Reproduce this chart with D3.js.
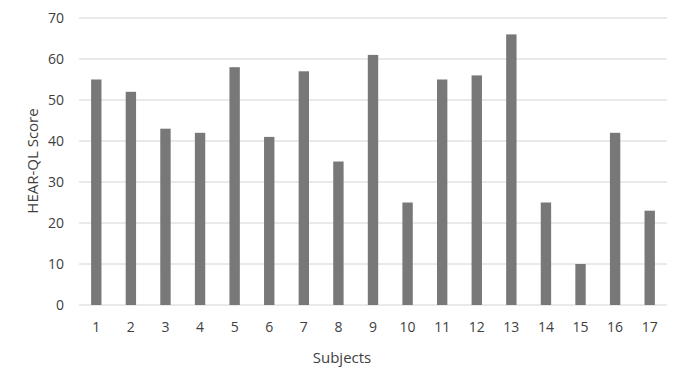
<!DOCTYPE html>
<html>
<head>
<meta charset="utf-8">
<script src="https://cdn.jsdelivr.net/npm/d3@7"></script>
<style>
  body { margin: 0; background: #fff; }
  text { font-family: "Open Sans", "Noto Sans", sans-serif; fill: #404040; }
</style>
</head>
<body>
<div id="chart"></div>
<script>
// subject numbers and HEAR-QL scores
const subjects = ["1","2","3","4","5","6","7","8","9","10","11","12","13","14","15","16","17"];
const scores = [55, 52, 43, 42, 58, 41, 57, 35, 61, 25, 55, 56, 66, 25, 10, 42, 23];
const yTicks = [0, 10, 20, 30, 40, 50, 60, 70];

const width = 685, height = 383;
const margin = {top: 18, right: 18, bottom: 78, left: 79};

const svg = d3.select("#chart")
              .append("svg")
              .attr("width", width)
              .attr("height", height);

const x = d3.scaleBand()
            .domain(subjects)
            .range([margin.left, width - margin.right])
            .paddingInner(0.7)
            .paddingOuter(0.35);

const y = d3.scaleLinear()
            .domain([0, 70])
            .range([height - margin.bottom, margin.top]);

// gridlines
svg.append("g")
   .selectAll("line")
   .data(yTicks)
   .join("line")
   .attr("x1", margin.left)
   .attr("x2", width - margin.right)
   .attr("y1", d => y(d))
   .attr("y2", d => y(d))
   .attr("stroke", "#d4d4d4")
   .attr("stroke-width", 1);

// bars
svg.append("g")
   .selectAll("rect")
   .data(scores)
   .join("rect")
   .attr("x", (d, i) => x(subjects[i]))
   .attr("y", d => y(d))
   .attr("width", x.bandwidth())
   .attr("height", d => y(0) - y(d))
   .attr("fill", "#787878");

// y tick labels
svg.append("g")
   .selectAll("text")
   .data(yTicks)
   .join("text")
   .attr("x", 64)
   .attr("y", d => y(d))
   .attr("dy", "0.35em")
   .attr("text-anchor", "end")
   .style("font-size", "14px")
   .text(d => d);

// x tick labels
svg.append("g")
   .selectAll("text")
   .data(subjects)
   .join("text")
   .attr("x", d => x(d) + x.bandwidth() / 2)
   .attr("y", y(0) + 22)
   .attr("dy", "0.35em")
   .attr("text-anchor", "middle")
   .style("font-size", "14px")
   .text(d => d);

// axis titles
svg.append("text")
   .attr("x", 342)
   .attr("y", 363)
   .attr("text-anchor", "middle")
   .style("font-size", "15px")
   .text("Subjects");

svg.append("text")
   .attr("transform", "translate(38,161) rotate(-90)")
   .attr("text-anchor", "middle")
   .style("font-size", "15px")
   .text("HEAR-QL Score");
</script>
</body>
</html>
